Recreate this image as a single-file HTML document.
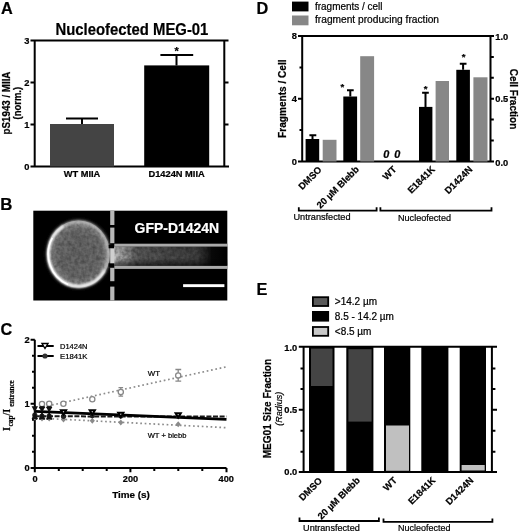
<!DOCTYPE html>
<html><head><meta charset="utf-8"><style>
html,body{margin:0;padding:0;background:#fff;}
svg{display:block;filter:blur(0.3px);}
text{font-family:"Liberation Sans",sans-serif;}
text.serif{font-family:"Liberation Serif",serif;}
text{stroke:#000;stroke-width:0.22px;paint-order:stroke;}
text[fill="#fff"]{stroke:#fff;}
</style></head><body>
<svg width="520" height="532" viewBox="0 0 520 532">
<defs>
<radialGradient id="cellg" cx="0.5" cy="0.5" r="0.5">
<stop offset="0" stop-color="#666"/>
<stop offset="0.7" stop-color="#6e6e6e"/>
<stop offset="0.86" stop-color="#858585"/>
<stop offset="0.95" stop-color="#aaa"/>
<stop offset="1" stop-color="#888"/>
</radialGradient>
<filter id="blur2" x="-20%" y="-20%" width="140%" height="140%"><feGaussianBlur stdDeviation="1.5"/></filter>
<filter id="blur06" x="-20%" y="-20%" width="140%" height="140%"><feGaussianBlur stdDeviation="0.6"/></filter>
<filter id="blur08" x="-20%" y="-20%" width="140%" height="140%"><feGaussianBlur stdDeviation="0.9"/></filter>
<filter id="noise" x="0" y="0" width="100%" height="100%"><feTurbulence type="fractalNoise" baseFrequency="0.28" numOctaves="2" seed="3"/><feColorMatrix type="matrix" values="0 0 0 0 0  0 0 0 0 0  0 0 0 0 0  1.2 0 0 0 -0.35"/><feComposite in2="SourceGraphic" operator="in"/></filter>
<linearGradient id="chan" x1="0" x2="1" y1="0" y2="0">
<stop offset="0" stop-color="#c8c8c8"/>
<stop offset="0.1" stop-color="#9a9a9a"/>
<stop offset="0.2" stop-color="#606060"/>
<stop offset="0.5" stop-color="#4c4c4c"/>
<stop offset="0.72" stop-color="#444"/>
<stop offset="0.81" stop-color="#262626"/>
<stop offset="0.86" stop-color="#080808"/>
<stop offset="1" stop-color="#000"/>
</linearGradient>
<linearGradient id="chanv" x1="0" x2="0" y1="0" y2="1">
<stop offset="0" stop-color="#000" stop-opacity="0.1"/>
<stop offset="0.6" stop-color="#000" stop-opacity="0"/>
<stop offset="1" stop-color="#000" stop-opacity="0.6"/>
</linearGradient>
</defs>

<!-- ================= PANEL A ================= -->
<g id="A">
<text x="1" y="13.8" font-size="16.3" font-weight="bold">A</text>
<text x="55.4" y="34.8" font-size="16.5" font-weight="bold" textLength="153" lengthAdjust="spacingAndGlyphs">Nucleofected MEG-01</text>
<g stroke="#000" stroke-width="2" fill="none">
<path d="M30.5 40.5 H228.5 M34.7 40.5 V166.5 M224.3 40.5 V166.5 M30.5 166.5 H229"/>
<path d="M30.5 82.5 H34.7 M30.5 124.5 H34.7 M224.3 82.5 H228.5 M224.3 124.5 H228.5"/>
</g>
<g font-size="9.3" font-weight="bold" text-anchor="end">
<text x="29.5" y="43.7">3</text><text x="29.5" y="85.7">2</text><text x="29.5" y="127.7">1</text><text x="29.5" y="169.7">0</text>
</g>
<rect x="50" y="124" width="64" height="42.5" fill="#444"/>
<rect x="144.2" y="65.4" width="65" height="101.1" fill="#000"/>
<g stroke="#000" stroke-width="2" fill="none">
<path d="M82 124 V118.5 M66 118.5 H98"/>
<path d="M176.5 65.4 V54.9 M160.4 54.9 H193.2"/>
</g>
<text x="176.7" y="55" font-size="11" font-weight="bold" text-anchor="middle">*</text>
<g font-size="9.3" font-weight="bold" text-anchor="middle">
<text x="82" y="177">WT MIIA</text>
<text x="176.6" y="177">D1424N MIIA</text>
</g>
<g font-size="10.2" font-weight="bold" text-anchor="middle">
<text transform="translate(10.2,103) rotate(-90)" textLength="62.8" lengthAdjust="spacingAndGlyphs">pS1943 / MIIA</text>
<text transform="translate(20.9,103.2) rotate(-90)" textLength="32.5" lengthAdjust="spacingAndGlyphs">(norm.)</text>
</g>
</g>

<!-- ================= PANEL B ================= -->
<g id="B">
<text x="0.3" y="209.6" font-size="16.8" font-weight="bold">B</text>
<rect x="33.3" y="210.7" width="194" height="89.8" fill="#000"/>
<ellipse cx="78.5" cy="254" rx="33" ry="35" fill="#303030" filter="url(#blur2)"/>
<ellipse cx="78.5" cy="254" rx="31.5" ry="33.5" fill="url(#cellg)"/>
<ellipse cx="78.5" cy="254" rx="31" ry="33" fill="#000" opacity="0.45" filter="url(#noise)"/>
<ellipse cx="78.5" cy="254" rx="30.2" ry="32.4" stroke="#bbb" stroke-width="2" fill="none" filter="url(#blur08)"/>
<path d="M63.4 225.9 A30.2 32.4 0 1 0 104.7 270.2" stroke="#fafafa" stroke-width="2.4" fill="none" filter="url(#blur08)"/>
<path d="M52.3 237.8 A30.2 32.4 0 0 0 68.2 284.4" stroke="#fff" stroke-width="1.6" fill="none" filter="url(#blur06)"/>
<!-- channel -->
<rect x="114" y="246.5" width="113.3" height="19.2" fill="url(#chan)"/>
<rect x="114" y="246.5" width="95" height="19.2" fill="#000" opacity="0.55" filter="url(#noise)"/>
<rect x="114" y="246.5" width="113.3" height="19.2" fill="url(#chanv)"/>
<rect x="114.3" y="243.7" width="113" height="2.9" fill="#aaa"/>
<rect x="114.3" y="265.9" width="113" height="3" fill="#aaa"/>
<!-- dashed wall -->
<rect x="108.6" y="244.8" width="4.3" height="3.5" fill="#000"/>
<rect x="108.6" y="263.3" width="4.3" height="3.5" fill="#000"/>
<g fill="#b8b8b8">
<rect x="110.2" y="210.7" width="4.2" height="14.3"/>
<rect x="110.2" y="227.6" width="4.2" height="15.6"/>
<rect x="110.2" y="248.3" width="4.2" height="15" fill="#cfcfcf"/>
<rect x="110.2" y="267.8" width="4.2" height="13.4"/>
<rect x="110.2" y="286.6" width="4.2" height="13.9"/>
</g>
<text x="134.6" y="232.7" font-size="14.5" font-weight="bold" fill="#fff" textLength="84.6" lengthAdjust="spacingAndGlyphs">GFP-D1424N</text>
<rect x="183.1" y="284.2" width="41.3" height="2.9" fill="#fff"/>
</g>

<!-- ================= PANEL C ================= -->
<g id="C">
<text x="0.5" y="335" font-size="16.3" font-weight="bold">C</text>
<g stroke="#000" stroke-width="2" fill="none">
<path d="M34.8 339.8 V468 M30.6 468 H226.5"/>
<path d="M30.6 339.8 H34.8 M30.6 403.8 H34.8"/>
<path d="M32 355.8 H34.8 M32 371.8 H34.8 M32 387.8 H34.8 M32 419.8 H34.8 M32 435.8 H34.8 M32 451.8 H34.8"/>
<path d="M34.8 468 V472.3 M130.4 468 V472.3 M226.5 468 V472.3"/>
<path d="M58.8 468 V471 M82.7 468 V471 M106.7 468 V471 M154.3 468 V471 M178.3 468 V471 M202.3 468 V471"/>
</g>
<g font-size="9.3" font-weight="bold" text-anchor="end">
<text x="29.6" y="343">2</text><text x="29.6" y="407">1</text><text x="29.6" y="471.2">0</text>
</g>
<g font-size="9.2" font-weight="bold" text-anchor="middle">
<text x="35" y="481.6">0</text><text x="130.5" y="481.8">200</text><text x="226.2" y="481.8">400</text>
</g>
<text x="131" y="497.5" font-size="9.9" font-weight="bold" text-anchor="middle">Time (s)</text>
<!-- y label -->
<g font-weight="bold">
<text class="serif" transform="translate(10.1,430.9) rotate(-90)" font-size="9.9">I</text>
<text class="serif" transform="translate(13.3,426.4) rotate(-90)" font-size="7.2">cap</text>
<text class="serif" transform="translate(10.1,415.4) rotate(-90)" font-size="9.9">/I</text>
<text class="serif" transform="translate(13.6,406.8) rotate(-90)" font-size="7.8" textLength="26.6" lengthAdjust="spacingAndGlyphs">entrance</text>
</g>
<!-- WT dotted -->
<path d="M34.8 408.8 L226.5 366.8" stroke="#8c8c8c" stroke-width="1.7" stroke-dasharray="1.7 2.7" fill="none"/>
<!-- WT+blebb dotted -->
<path d="M34.8 417.9 L226.5 427.7" stroke="#8c8c8c" stroke-width="1.7" stroke-dasharray="1.7 2.7" fill="none"/>
<!-- E1841K dashed -->
<path d="M34.8 416.3 L226.5 416.6" stroke="#1a1a1a" stroke-width="2" stroke-dasharray="5 1.6" fill="none"/>
<!-- WT circles -->
<g stroke="#888" stroke-width="1.3" fill="#fff">
<path d="M120.8 387.7 V396.2 M118.5 387.7 H123.1 M118.5 396.2 H123.1 M178.2 369.5 V381.2 M175.4 369.5 H181.2 M175.4 381.2 H181.2" fill="none"/>
<circle cx="42" cy="404" r="2.6"/><circle cx="49.2" cy="403.7" r="2.6"/><circle cx="63.4" cy="403.8" r="2.6"/>
<circle cx="92.3" cy="399.2" r="2.6"/><circle cx="120.8" cy="392" r="2.6"/><circle cx="178.2" cy="375.4" r="2.6"/>
</g>
<!-- early error bars -->
<g stroke="#000" stroke-width="1.5" fill="none">
<path d="M34.8 405.5 V419 M42 406.5 V419.5 M49.2 406.5 V419.5 M39.5 407 H44.5 M46.7 407 H51.7 M39.5 419.3 H44.5 M46.7 419.3 H51.7 M32.3 419 H37.3"/>
</g>
<!-- D1424N solid -->
<path d="M34.8 411.3 L226.5 419.3" stroke="#000" stroke-width="2.8" fill="none"/>
<!-- WT+blebb markers -->
<g fill="#8a8a8a">
<path d="M34.8 414.5 l2.6 3 l-2.6 3 l-2.6 -3z M42 415.5 l2.6 3 l-2.6 3 l-2.6 -3z M49.2 415.5 l2.6 3 l-2.6 3 l-2.6 -3z M63.5 416.5 l2.6 3 l-2.6 3 l-2.6 -3z M92.3 417.7 l2.6 3 l-2.6 3 l-2.6 -3z M120.8 419.5 l2.6 3 l-2.6 3 l-2.6 -3z M178.2 421.3 l2.6 3 l-2.6 3 l-2.6 -3z"/>
</g>
<!-- E1841K markers -->
<g fill="#222">
<circle cx="34.8" cy="415" r="2.6"/><circle cx="42" cy="416" r="2.6"/><circle cx="49.2" cy="416" r="2.6"/><circle cx="63.5" cy="416.3" r="2.6"/><circle cx="92.3" cy="415.9" r="2.4"/><circle cx="120.8" cy="416.3" r="2.4"/><circle cx="178.2" cy="416.6" r="2.4"/>
</g>
<!-- D1424N markers open down-triangles -->
<g fill="#111">
<path d="M31.6 406.3 h6.4 l-3.2 6z M34.8 412.3 l3.2 6.8 h-6.4z"/>
<path d="M38.8 407 h6.4 l-3.2 5.6z M42 412.6 l3.2 6.6 h-6.4z"/>
<path d="M46 407 h6.4 l-3.2 5.6z M49.2 412.6 l3.2 6.6 h-6.4z"/>
</g>
<g stroke="#000" stroke-width="2" fill="#fff" stroke-linejoin="miter">
<path d="M60.9 410.3 h5.2 l-2.6 4.3z M89.7 410.3 h5.2 l-2.6 4.3z M118.2 412.7 h5.2 l-2.6 4.3z M175.6 413.2 h5.2 l-2.6 4.3z"/>
</g>
<!-- legend -->
<path d="M37.5 345.9 H53.7 M37.5 356 H53.7" stroke="#000" stroke-width="2"/>
<path d="M42 343.5 h6 l-3 5z" stroke="#000" stroke-width="1.4" fill="#fff"/>
<circle cx="45" cy="356" r="2.6" fill="#333"/>
<g font-size="7.9">
<text x="60" y="348.8" textLength="27.5" lengthAdjust="spacingAndGlyphs">D1424N</text>
<text x="60" y="359.2" textLength="27.5" lengthAdjust="spacingAndGlyphs">E1841K</text>
<text x="147.7" y="376">WT</text>
<text x="147.7" y="438.2" textLength="38.8" lengthAdjust="spacingAndGlyphs">WT + blebb</text>
</g>
</g>

<!-- ================= PANEL D ================= -->
<g id="D">
<text x="256.5" y="13.7" font-size="16.3" font-weight="bold">D</text>
<rect x="292" y="1.6" width="16.5" height="9.8" fill="#000"/>
<rect x="292" y="15.5" width="16.5" height="9.8" fill="#878787"/>
<g font-size="10">
<text x="315" y="9.7" textLength="67.4" lengthAdjust="spacingAndGlyphs">fragments / cell</text>
<text x="315" y="23.4" textLength="124" lengthAdjust="spacingAndGlyphs">fragment producing fraction</text>
</g>
<g stroke="#000" stroke-width="2" fill="none">
<path d="M298 36 H494 M302.2 36 V161.5 M490.5 36 V161.5 M298 161.5 H494"/>
<path d="M298 98.75 H302.2 M299.5 67.4 H302.2 M299.5 130.1 H302.2"/>
<path d="M490.5 56.9 H493.8 M490.5 77.7 H493.8 M490.5 98.75 H494 M490.5 119.6 H493.8 M490.5 140.5 H493.8"/>
</g>
<g font-size="9.3" font-weight="bold" text-anchor="end">
<text x="297" y="39.3">8</text><text x="297" y="102">4</text><text x="297" y="164.8">0</text>
</g>
<g font-size="9.3" font-weight="bold">
<text x="495.3" y="39.5">1.0</text><text x="495.3" y="101.9">0.5</text><text x="495.3" y="165.5">0.0</text>
</g>
<g fill="#000">
<rect x="305.6" y="139" width="13.6" height="22.5"/>
<rect x="343.3" y="96.5" width="13.8" height="65"/>
<rect x="419" y="106.9" width="13.4" height="54.6"/>
<rect x="456.3" y="69.8" width="13.6" height="91.7"/>
</g>
<g fill="#878787">
<rect x="322.7" y="139.8" width="13.8" height="21.7"/>
<rect x="360.2" y="56.2" width="13.9" height="105.3"/>
<rect x="435.6" y="81" width="13.4" height="80.5"/>
<rect x="473.4" y="77.3" width="14.1" height="84.2"/>
</g>
<g stroke="#000" stroke-width="2" fill="none">
<path d="M312.5 139 V135.2 M309.4 135.2 H316.3"/>
<path d="M350.3 96.5 V90.2 M347 90.2 H353.7"/>
<path d="M425.5 106.9 V92.8 M422.1 92.8 H428.8"/>
<path d="M463.1 69.8 V63.7 M459.8 63.7 H466.5"/>
</g>
<g font-size="9.6" font-weight="bold" text-anchor="middle">
<text x="342.3" y="89.8">*</text><text x="425.6" y="92.1">*</text><text x="463.7" y="59.9">*</text>
</g>
<text x="383.2" y="158.4" font-size="10.9" font-weight="bold" font-style="italic">0</text>
<text x="394.2" y="158.4" font-size="10.9" font-weight="bold" font-style="italic">0</text>
<g font-size="9.45" font-weight="bold" text-anchor="end">
<text transform="translate(322.3,170.3) rotate(-45)">DMSO</text>
<text transform="translate(359.5,170) rotate(-45)">20 µM Blebb</text>
<text transform="translate(397,170) rotate(-45)">WT</text>
<text transform="translate(435.5,170) rotate(-45)">E1841K</text>
<text transform="translate(473,170) rotate(-45)">D1424N</text>
</g>
<g stroke="#000" stroke-width="1.8" fill="none">
<path d="M298.8 207.2 V210.6 H376.6 V207.2"/>
<path d="M380.4 207.2 V210.6 H491.5 V207.2"/>
</g>
<g font-size="9.1">
<text x="293.5" y="220.2" textLength="57" lengthAdjust="spacingAndGlyphs">Untransfected</text>
<text x="398" y="221" textLength="53" lengthAdjust="spacingAndGlyphs">Nucleofected</text>
</g>
<g font-size="10" font-weight="bold" text-anchor="middle">
<text transform="translate(286.4,98.7) rotate(-90)" textLength="78.4" lengthAdjust="spacingAndGlyphs">Fragments / Cell</text>
<text transform="translate(510.1,99) rotate(90)" textLength="60.6" lengthAdjust="spacingAndGlyphs">Cell Fraction</text>
</g>
</g>

<!-- ================= PANEL E ================= -->
<g id="E">
<text x="256.5" y="295.4" font-size="16.3" font-weight="bold">E</text>
<g stroke="#000" stroke-width="1.8">
<rect x="312.9" y="297.2" width="15.3" height="8.8" fill="#5a5a5a"/>
<rect x="312.9" y="311.9" width="15.3" height="8.8" fill="#000"/>
<rect x="312.9" y="327" width="15.3" height="8.8" fill="#c8c8c8"/>
</g>
<g font-size="10">
<text x="334.8" y="305.3">&gt;14.2 µm</text>
<text x="334.8" y="320.2">8.5 - 14.2 µm</text>
<text x="334.8" y="335.2">&lt;8.5 µm</text>
</g>
<!-- bars -->
<g fill="#000">
<rect x="309" y="346.8" width="25.5" height="125.2"/>
<rect x="346.3" y="346.8" width="27.1" height="125.2"/>
<rect x="384" y="346.8" width="26.3" height="125.2"/>
<rect x="421.3" y="346.8" width="27.1" height="125.2"/>
<rect x="459.7" y="346.8" width="26.3" height="125.2"/>
</g>
<rect x="311" y="348.6" width="21.5" height="37.4" fill="#444"/>
<rect x="348.4" y="349.2" width="23.2" height="72.4" fill="#444"/>
<rect x="386" y="425.5" width="23" height="45.3" fill="#c0c0c0"/>
<rect x="461.6" y="465" width="23.1" height="5.5" fill="#c0c0c0"/>
<g stroke="#000" stroke-width="2" fill="none">
<path d="M298.8 346.8 H497 M303.6 346.8 V472 M491.9 346.8 V472 M298.8 472 H497"/>
<path d="M298.8 409.7 H303.6 M300.5 368.4 H303.6 M300.5 389 H303.6 M300.5 430.8 H303.6 M300.5 451.8 H303.6"/>
<path d="M491.9 409.7 H497 M491.9 368.4 H495.4 M491.9 389 H495.4 M491.9 430.8 H495.4 M491.9 451.8 H495.4"/>
</g>
<g font-size="9.3" font-weight="bold" text-anchor="end">
<text x="297.3" y="351">1.0</text><text x="297.3" y="412.9">0.5</text><text x="297.3" y="475.2">0.0</text>
</g>
<g font-size="9.45" font-weight="bold" text-anchor="end">
<text transform="translate(322.8,481.3) rotate(-45)">DMSO</text>
<text transform="translate(360.5,481) rotate(-45)">20 µM Blebb</text>
<text transform="translate(397.5,481) rotate(-45)">WT</text>
<text transform="translate(436,481) rotate(-45)">E1841K</text>
<text transform="translate(474,481) rotate(-45)">D1424N</text>
</g>
<g stroke="#000" stroke-width="1.8" fill="none">
<path d="M299.5 517.6 V521 H378.9 V517.6"/>
<path d="M383.5 518.5 V521.9 H492.4 V518.5"/>
</g>
<g font-size="9.1">
<text x="303.1" y="531" textLength="56.7" lengthAdjust="spacingAndGlyphs">Untransfected</text>
<text x="398" y="531" textLength="52.4" lengthAdjust="spacingAndGlyphs">Nucleofected</text>
</g>
<text transform="translate(271.2,408.6) rotate(-90)" font-size="10" font-weight="bold" text-anchor="middle" textLength="99.3" lengthAdjust="spacingAndGlyphs">MEG01 Size Fraction</text>
<text transform="translate(281.5,408.7) rotate(-90)" font-size="9.4" font-style="italic" text-anchor="middle" textLength="34" lengthAdjust="spacingAndGlyphs">(Radius)</text>
</g>
</svg>
</body></html>
